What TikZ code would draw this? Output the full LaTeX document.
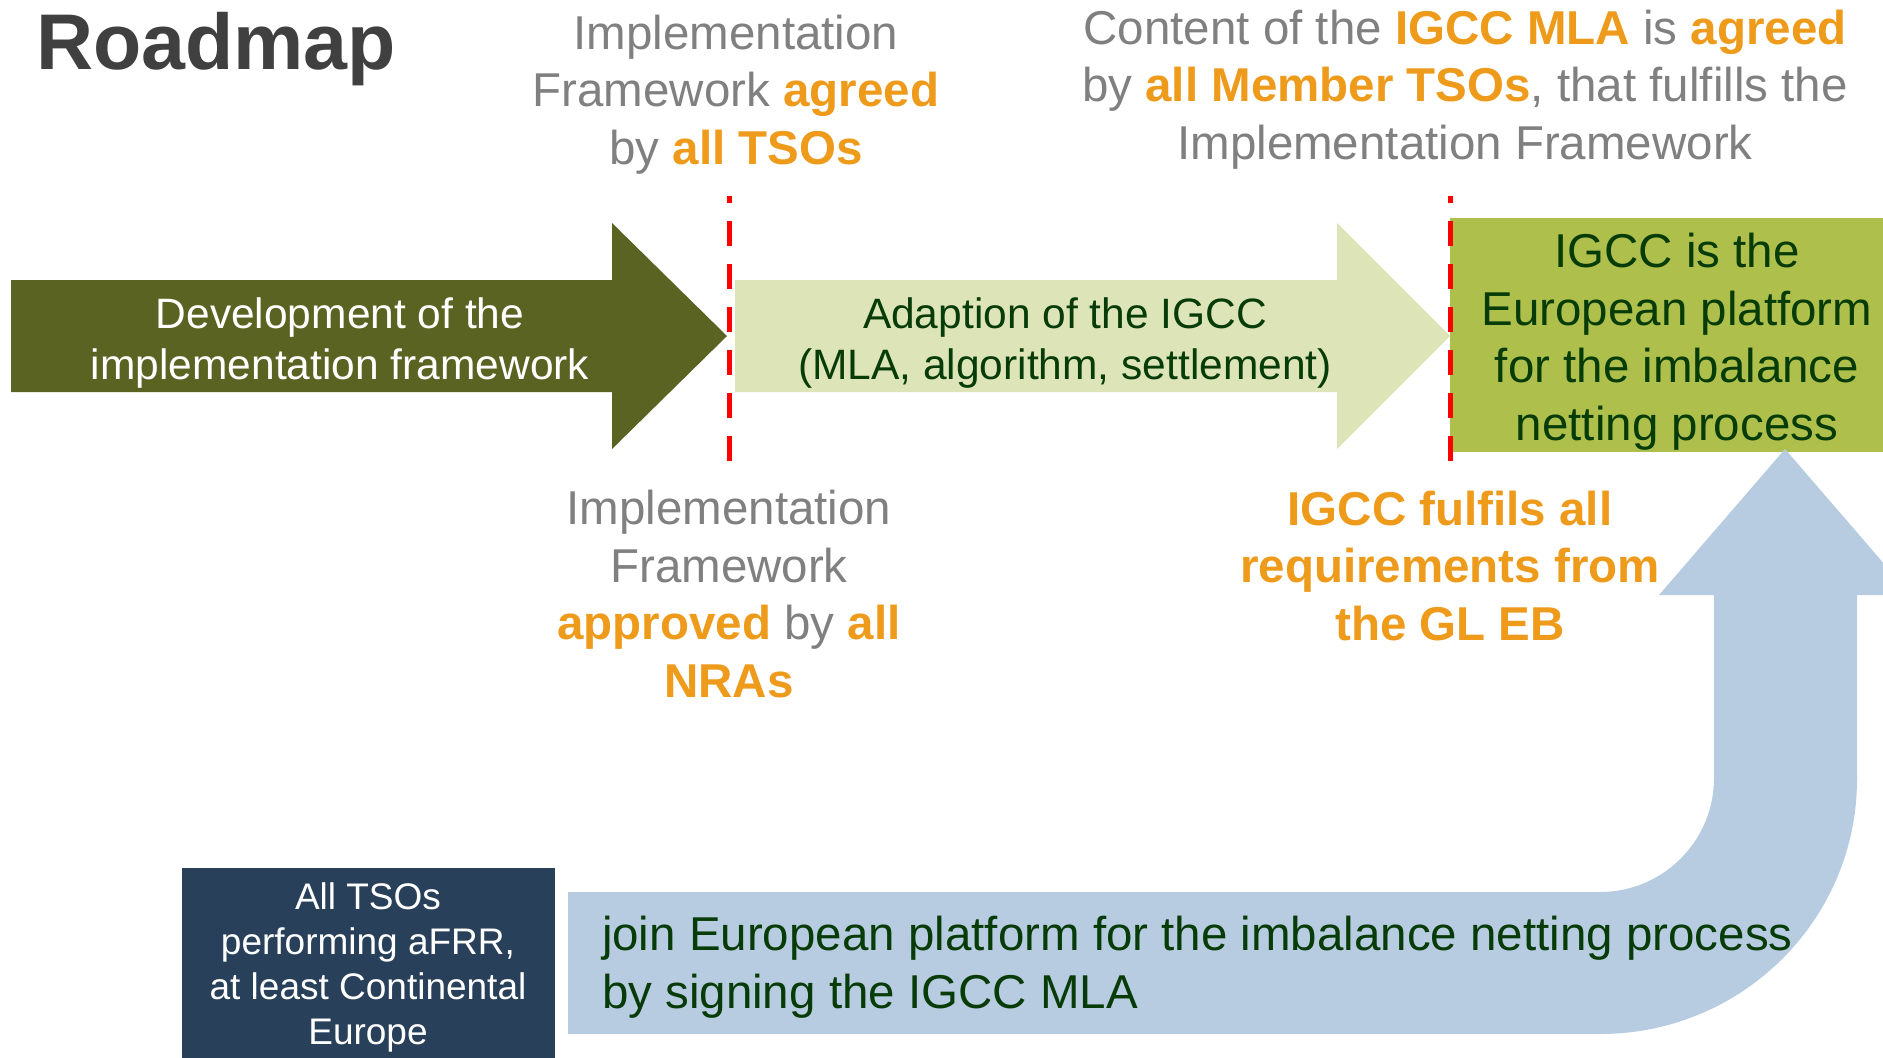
\documentclass[tikz,border=0pt]{standalone}
\usepackage{fontspec}
\setmainfont{Liberation Sans}
\definecolor{titlegray}{HTML}{404040}
\definecolor{txtgray}{HTML}{808080}
\definecolor{orng}{HTML}{EE9A1A}
\definecolor{olivedark}{HTML}{5B6323}
\definecolor{lightgreen}{HTML}{DDE5B8}
\definecolor{boxgreen}{HTML}{AEC04B}
\definecolor{darktxt}{HTML}{073B07}
\definecolor{navybox}{HTML}{284059}
\definecolor{bluearrow}{HTML}{B8CCE1}
\newcommand\ohl[1]{\textbf{\color{orng}#1}}
\tikzset{
  bigtxt/.style={inner sep=0pt, outer sep=0pt, align=center, font=\fontsize{47.5}{57.5}\selectfont},
  arrtxt/.style={inner sep=0pt, outer sep=0pt, align=center, font=\fontsize{42.5}{51}\selectfont},
  smalltxt/.style={inner sep=0pt, outer sep=0pt, align=center, font=\fontsize{37}{45}\selectfont},
  milestone/.style={draw=red, line width=5pt, dash pattern=on 25pt off 18pt, dash phase=18pt},
}
\begin{document}
\begin{tikzpicture}[x=1pt,y=-1pt]
\useasboundingbox (0,0) rectangle (1883,1058);
\clip (0,0) rectangle (1883,1058);
\fill[white] (0,0) rectangle (1883,1058);

% title
\node[inner sep=0pt, anchor=base west, text=titlegray, font=\fontsize{79}{84}\selectfont\bfseries] (title) at (36,69) {Roadmap};

% phase arrows
\fill[olivedark] (11,280) -- (612,280) -- (612,223) -- (727,336) -- (612,449) -- (612,392) -- (11,392) -- cycle;
\fill[lightgreen] (735,280) -- (1337,280) -- (1337,223) -- (1450,336) -- (1337,449) -- (1337,392) -- (735,392) -- cycle;
\fill[boxgreen] (1450,218) rectangle (1895,452);

% milestones
\coordinate (m1top) at (729,196);
\coordinate (m1bot) at (729,461);
\coordinate (m2top) at (1450,196);
\coordinate (m2bot) at (1450,461);
\draw[milestone] (m1top) -- (m1bot);
\draw[milestone] (m2top) -- (m2bot);

% bottom curved arrow
\fill[bluearrow] (568,892) -- (1600,892)
  .. controls (1663,892) and (1714,841) .. (1714,778)
  -- (1714,595) -- (1659,595) -- (1785,449) -- (1911,595) -- (1857,595) -- (1857,779)
  .. controls (1857,920) and (1742,1034) .. (1600,1034)
  -- (568,1034) -- cycle;
\fill[navybox] (182,868) rectangle (555,1070);

% texts (base anchor = baseline of the last line)
\node[arrtxt, anchor=base, text=white] (dev) at (340,379) {Development of the\\implementation framework};
\node[arrtxt, anchor=base, text=darktxt] (adapt) at (1065,379) {Adaption of the IGCC\\(MLA, algorithm, settlement)};
\node[bigtxt, anchor=base, text=darktxt] (platform) at (1677,440) {IGCC is the\\European platform\\for the imbalance\\netting process};

\node[bigtxt, anchor=base, text=txtgray] (agreed) at (736,164) {Implementation\\Framework \ohl{agreed}\\by \ohl{all TSOs}};
\node[bigtxt, anchor=base, text=txtgray] (content) at (1465,159) {Content of the \ohl{IGCC MLA} is \ohl{agreed}\\by \ohl{all Member TSOs}, that fulfills the\\Implementation Framework};
\node[bigtxt, anchor=base, text=txtgray] (approved) at (729,697) {Implementation\\Framework\\\ohl{approved} by \ohl{all}\\\ohl{NRAs}};
\node[bigtxt, anchor=base, text=orng, font=\fontsize{47.5}{57.5}\selectfont\bfseries] (fulfils) at (1450,640) {IGCC fulfils all\\requirements from\\the GL EB};

\node[bigtxt, anchor=base west, align=left, text=darktxt] (join) at (602,1008) {join European platform for the imbalance netting process\\by signing the IGCC MLA};
\node[smalltxt, anchor=base, text=white] (tsos) at (368,1044) {All TSOs\\performing aFRR,\\at least Continental\\Europe};
\end{tikzpicture}
\end{document}
